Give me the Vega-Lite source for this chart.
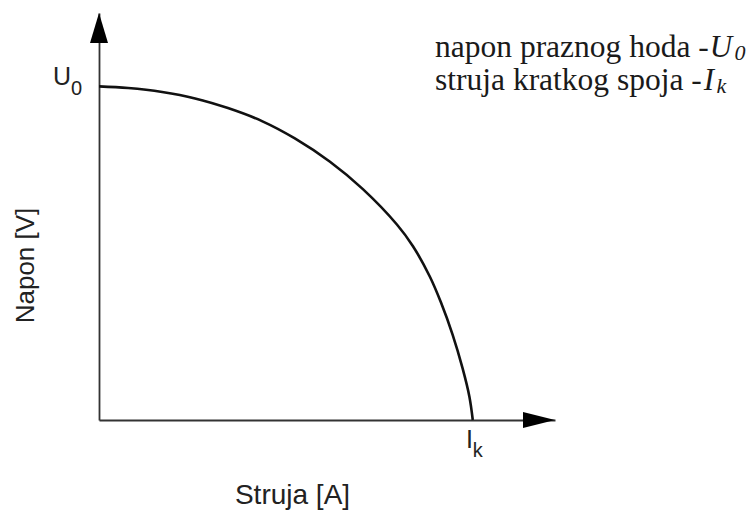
{
  "$schema": "https://vega.github.io/schema/vega-lite/v6.json",
  "width": 456,
  "height": 407,
  "autosize": {"type": "none"},
  "padding": {"left": 99, "top": 13, "right": 201, "bottom": 92},
  "background": "white",
  "config": {"view": {"stroke": null}},
  "datasets": {
    "curve": [
      {"current": 0, "voltage": 100},
      {"current": 7.8, "voltage": 99.5},
      {"current": 16.9, "voltage": 98.3},
      {"current": 25.7, "voltage": 96.4},
      {"current": 34.5, "voltage": 93.5},
      {"current": 43.6, "voltage": 89.6},
      {"current": 52.4, "voltage": 84.4},
      {"current": 61.8, "voltage": 77.4},
      {"current": 70.6, "voltage": 69.2},
      {"current": 79.7, "voltage": 58.6},
      {"current": 84.0, "voltage": 52.1},
      {"current": 88.5, "voltage": 43.0},
      {"current": 91.5, "voltage": 35.2},
      {"current": 94.6, "voltage": 25.6},
      {"current": 97.3, "voltage": 15.4},
      {"current": 99.1, "voltage": 7.0},
      {"current": 100, "voltage": 0}
    ],
    "labels": [
      {"text": "napon praznog hoda -", "x": 89.9, "y": 108.8, "kind": "note"},
      {"text": "U", "x": 163.4, "y": 108.8, "kind": "noteItalic"},
      {"text": "0", "x": 170.0, "y": 108.0, "kind": "noteSub"},
      {"text": "struja kratkog spoja -", "x": 89.9, "y": 98.9, "kind": "note"},
      {"text": "I", "x": 161.8, "y": 98.9, "kind": "noteItalic"},
      {"text": "k", "x": 165.2, "y": 98.0, "kind": "noteSub"},
      {"text": "U", "x": -12.3, "y": 100.4, "kind": "axisMain"},
      {"text": "0", "x": -7.5, "y": 97.4, "kind": "axisSub"},
      {"text": "I", "x": 98.2, "y": -8.4, "kind": "axisMain"},
      {"text": "k", "x": 100.0, "y": -11.1, "kind": "axisSub"}
    ],
    "arrowUp": [{"x": 0, "y": 122}],
    "arrowRight": [{"x": 122, "y": 0}]
  },
  "layer": [
    {
      "data": {"name": "curve"},
      "mark": {"type": "line", "interpolate": "catmull-rom", "color": "#111111", "strokeWidth": 2.6},
      "encoding": {
        "x": {
          "field": "current", "type": "quantitative",
          "scale": {"domain": [0, 122], "nice": false},
          "axis": {
            "title": "Struja [A]", "domain": true, "domainColor": "#333333", "domainWidth": 1.8,
            "ticks": false, "labels": false, "grid": false,
            "titleFont": "Liberation Sans", "titleFontSize": 28, "titleFontWeight": "normal",
            "titleColor": "#222222", "titleX": 193, "titleY": 83, "titleBaseline": "alphabetic", "titleAlign": "center"
          }
        },
        "y": {
          "field": "voltage", "type": "quantitative",
          "scale": {"domain": [0, 122], "nice": false},
          "axis": {
            "title": "Napon [V]", "domain": true, "domainColor": "#333333", "domainWidth": 1.8,
            "ticks": false, "labels": false, "grid": false,
            "titleFont": "Liberation Sans", "titleFontSize": 26, "titleFontWeight": "normal",
            "titleColor": "#222222", "titleX": -66, "titleY": 252, "titleAngle": -90,
            "titleBaseline": "alphabetic", "titleAlign": "center"
          }
        }
      }
    },
    {
      "data": {"name": "arrowUp"},
      "mark": {"type": "point", "shape": "M0,0L0.3,1L-0.3,1Z", "size": 3600, "filled": true, "color": "#000000", "opacity": 1, "strokeWidth": 0},
      "encoding": {
        "x": {"field": "x", "type": "quantitative"},
        "y": {"field": "y", "type": "quantitative"}
      }
    },
    {
      "data": {"name": "arrowRight"},
      "mark": {"type": "point", "shape": "M0,0L-1,-0.25L-1,0.25Z", "size": 4096, "filled": true, "color": "#000000", "opacity": 1, "strokeWidth": 0},
      "encoding": {
        "x": {"field": "x", "type": "quantitative"},
        "y": {"field": "y", "type": "quantitative"}
      }
    },
    {
      "data": {"name": "labels"},
      "transform": [{"filter": "datum.kind === 'note'"}],
      "mark": {"type": "text", "font": "'Liberation Serif', 'Times New Roman', serif", "fontStyle": "normal", "fontSize": 31.5, "align": "left", "baseline": "alphabetic", "color": "#1a1a1a"},
      "encoding": {
        "x": {"field": "x", "type": "quantitative"},
        "y": {"field": "y", "type": "quantitative"},
        "text": {"field": "text"}
      }
    },
    {
      "data": {"name": "labels"},
      "transform": [{"filter": "datum.kind === 'noteItalic'"}],
      "mark": {"type": "text", "font": "'Liberation Serif', 'Times New Roman', serif", "fontStyle": "italic", "fontSize": 31, "align": "left", "baseline": "alphabetic", "color": "#1a1a1a"},
      "encoding": {
        "x": {"field": "x", "type": "quantitative"},
        "y": {"field": "y", "type": "quantitative"},
        "text": {"field": "text"}
      }
    },
    {
      "data": {"name": "labels"},
      "transform": [{"filter": "datum.kind === 'noteSub'"}],
      "mark": {"type": "text", "font": "'Liberation Serif', 'Times New Roman', serif", "fontStyle": "italic", "fontSize": 22, "align": "left", "baseline": "alphabetic", "color": "#1a1a1a"},
      "encoding": {
        "x": {"field": "x", "type": "quantitative"},
        "y": {"field": "y", "type": "quantitative"},
        "text": {"field": "text"}
      }
    },
    {
      "data": {"name": "labels"},
      "transform": [{"filter": "datum.kind === 'axisMain'"}],
      "mark": {"type": "text", "font": "Liberation Sans", "fontSize": 25, "align": "left", "baseline": "alphabetic", "color": "#222222"},
      "encoding": {
        "x": {"field": "x", "type": "quantitative"},
        "y": {"field": "y", "type": "quantitative"},
        "text": {"field": "text"}
      }
    },
    {
      "data": {"name": "labels"},
      "transform": [{"filter": "datum.kind === 'axisSub'"}],
      "mark": {"type": "text", "font": "Liberation Sans", "fontSize": 20, "align": "left", "baseline": "alphabetic", "color": "#222222"},
      "encoding": {
        "x": {"field": "x", "type": "quantitative"},
        "y": {"field": "y", "type": "quantitative"},
        "text": {"field": "text"}
      }
    }
  ]
}
